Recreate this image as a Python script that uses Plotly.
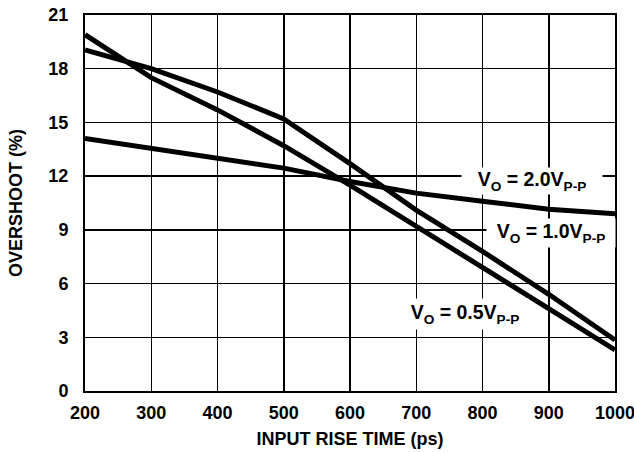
import plotly.graph_objects as go

rise_time_ps = [200, 300, 400, 500, 600, 700, 800, 900, 1000]
overshoot_05 = [19.9, 17.5, 15.7, 13.7, 11.5, 9.2, 6.85, 4.6, 2.3]
overshoot_10 = [19.05, 18.0, 16.7, 15.2, 12.7, 10.1, 7.8, 5.4, 2.85]
overshoot_20 = [14.1, 13.55, 12.95, 12.45, 11.7, 11.05, 10.6, 10.15, 9.9]

x_ticks = [200, 300, 400, 500, 600, 700, 800, 900, 1000]
y_ticks = [0, 3, 6, 9, 12, 15, 18, 21]

label_text = ["V<sub>O</sub> = 2.0V<sub>P-P</sub>",
              "V<sub>O</sub> = 1.0V<sub>P-P</sub>",
              "V<sub>O</sub> = 0.5V<sub>P-P</sub>"]
label_x = [874, 903, 773]
label_y = [11.75, 8.85, 4.3]

FONT = "Liberation Sans, Arial, sans-serif"

fig = go.Figure()
for ys in (overshoot_20, overshoot_10, overshoot_05):
    fig.add_trace(go.Scatter(x=rise_time_ps, y=ys, mode="lines",
                             line=dict(color="black", width=5),
                             showlegend=False, hoverinfo="skip"))

box_sizes = [(140, 26), (128, 28), (126, 30)]
for text, lx, ly, (w, h) in zip(label_text, label_x, label_y, box_sizes):
    fig.add_annotation(x=lx, y=ly, text=text, showarrow=False,
                       bgcolor="white", width=w, height=h, borderpad=0,
                       font=dict(family=FONT, size=19.5, color="black", weight="bold"))

fig.update_layout(
    width=634, height=453,
    margin=dict(l=85, r=19, t=15, b=62),
    paper_bgcolor="white", plot_bgcolor="white",
    font=dict(family=FONT, size=18, color="black", weight="bold"),
)
fig.update_xaxes(range=[200, 1000], tickvals=x_ticks, ticktext=[str(v) for v in x_ticks],
                 showgrid=True, gridcolor="black", gridwidth=1.5,
                 showline=True, linecolor="black", linewidth=2, mirror=True,
                 zeroline=False, ticks="", ticklabelstandoff=4, automargin=False,
                 ticklabeloverflow="allow",
                 tickfont=dict(family=FONT, size=18, weight="bold"),
                 title=dict(text="INPUT RISE TIME (ps)", standoff=11,
                            font=dict(family=FONT, size=18, weight="bold")))
fig.update_yaxes(range=[0, 21], tickvals=y_ticks,
                 showgrid=True, gridcolor="black", gridwidth=1.5,
                 showline=True, linecolor="black", linewidth=2, mirror=True,
                 zeroline=False, ticks="", ticklabelstandoff=11, automargin=False,
                 ticklabeloverflow="allow",
                 tickfont=dict(family=FONT, size=18, weight="bold"),
                 title=dict(text="OVERSHOOT (%)", standoff=21,
                            font=dict(family=FONT, size=18, weight="bold")))

fig.write_html("out.html",
               config={"displayModeBar": False, "staticPlot": True},
               post_script="document.body.style.margin='0';document.body.style.overflow='hidden';")
